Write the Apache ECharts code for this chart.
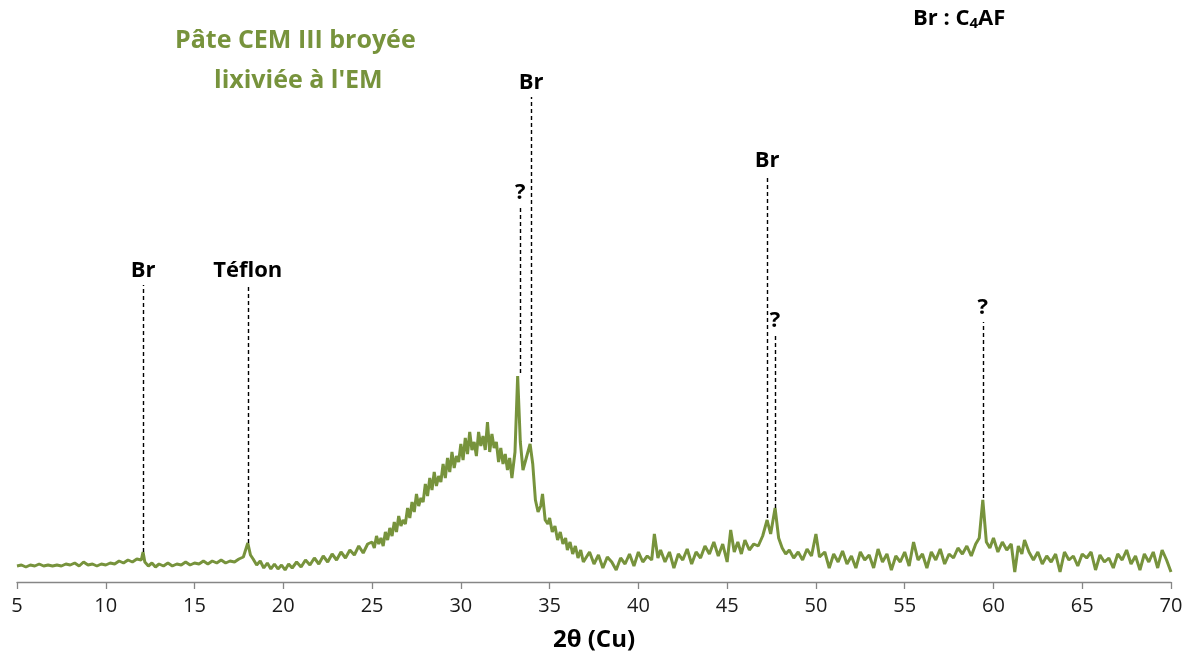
<!DOCTYPE html>
<html lang="fr" style="height: 100%">
<head>
    <meta charset="utf-8">
    <meta name="viewport" content="width=device-width, initial-scale=1.0">
</head>
<body style="height: 100%; margin: 0; overflow: hidden; background: #fff">
<div id="container" style="height: 659px; width: 1192px"></div>

<script type="text/javascript" src="https://cdn.jsdelivr.net/npm/echarts@6/dist/echarts.min.js"></script>

<script type="text/javascript">
    // diffractogramme : [2theta, intensité (unités arbitraires)]
    var pattern = [
      [5,16],[5.25,17],[5.5,15],[5.75,17],[6,16],[6.25,18],[6.5,16],[6.75,17],[7,16],[7.25,17],[7.5,16],[7.75,18],
      [8,17],[8.25,19],[8.5,16],[8.75,20],[9,17],[9.25,18],[9.5,16],[9.75,18],[10,17],[10.25,19],[10.5,18],[10.75,21],
      [11,19],[11.25,22],[11.5,20],[11.75,23],[12,22],[12.1,30],[12.2,20],[12.4,16],[12.6,19],[12.8,15],[13,18],[13.25,16],
      [13.5,19],[13.75,16],[14,18],[14.25,17],[14.5,20],[14.75,17],[15,19],[15.25,18],[15.5,21],[15.75,18],[16,21],[16.25,19],
      [16.5,22],[16.75,19],[17,21],[17.25,20],[17.5,23],[17.75,25],[18,39],[18.15,27],[18.3,23],[18.5,17],[18.7,21],[18.9,14],
      [19.1,19],[19.3,13],[19.5,18],[19.7,13],[19.9,17],[20.1,12],[20.3,18],[20.5,14],[20.75,20],[21,15],[21.25,22],[21.5,17],
      [21.75,24],[22,18],[22.25,26],[22.5,20],[22.75,28],[23,22],[23.25,30],[23.5,24],[23.75,32],[24,27],[24.25,36],[24.5,29],
      [24.75,38],[25,40],[25.125,34],[25.25,46],[25.375,38],[25.5,44],[25.625,36],[25.75,50],[25.875,42],
      [26,54],[26.125,46],[26.25,60],[26.375,50],[26.5,66],[26.625,56],[26.75,62],[26.875,58],
      [27,74],[27.125,64],[27.25,80],[27.375,70],[27.5,88],[27.625,76],[27.75,84],[27.875,80],
      [28,98],[28.125,86],[28.25,104],[28.375,92],[28.5,110],[28.625,96],[28.75,106],[28.875,100],
      [29,118],[29.125,104],[29.25,124],[29.375,110],[29.5,130],[29.625,114],[29.75,126],[29.875,120],
      [30,138],[30.125,122],[30.25,144],[30.375,128],[30.5,150],[30.625,132],[30.75,140],[30.875,126],
      [31,150],[31.125,136],[31.25,146],[31.375,132],[31.5,160],[31.625,130],[31.75,148],[31.875,134],
      [32,140],[32.125,120],[32.25,134],[32.375,118],[32.5,128],[32.625,112],[32.75,124],[32.875,104],
      [33.05,130],[33.2,206],[33.35,140],[33.5,112],[33.7,125],[33.9,138],[34.05,118],[34.2,82],[34.35,70],[34.5,76],
      [34.6,88],[34.75,62],[34.9,58],[35,64],[35.15,50],[35.3,56],[35.45,42],[35.6,50],[35.75,38],[35.9,44],[36,32],
      [36.15,40],[36.3,28],[36.45,36],[36.6,24],[36.75,32],[36.9,20],
      [37,22],[37.25,30],[37.5,18],[37.75,27],[38,14],[38.25,25],[38.5,20],[38.75,12],[39,24],[39.25,18],[39.5,28],[39.75,16],
      [40,30],[40.25,20],[40.5,26],[40.75,22],[40.9,48],[41.1,24],[41.25,32],[41.5,20],[41.75,30],[42,14],[42.25,28],[42.5,22],
      [42.75,33],[43,18],[43.25,30],[43.5,24],[43.75,36],[44,28],[44.25,40],[44.5,26],[44.75,38],[45,20],[45.2,52],[45.4,30],
      [45.6,40],[45.8,28],[46,42],[46.25,32],[46.5,38],[46.75,36],[47,46],[47.25,62],[47.45,48],[47.7,74],[47.9,44],[48.1,34],
      [48.3,28],[48.5,32],[48.75,24],[49,30],[49.25,22],[49.5,33],[49.75,26],[50,48],[50.2,25],[50.5,30],[50.75,14],[51,28],
      [51.25,20],[51.5,31],[51.75,18],[52,26],[52.25,14],[52.5,30],[52.75,22],[53,27],[53.25,14],[53.5,33],[53.75,20],[54,28],
      [54.25,12],[54.5,26],[54.75,20],[55,30],[55.25,16],[55.5,40],[55.75,22],[56,28],[56.25,14],[56.5,30],[56.75,22],[57,33],
      [57.25,18],[57.5,28],[57.75,24],[58,34],[58.25,28],[58.5,36],[58.75,26],[59,38],[59.2,44],[59.4,82],[59.6,40],[59.8,34],
      [60,44],[60.25,30],[60.5,40],[60.75,32],[61,38],[61.2,10],[61.4,36],[61.6,28],[61.75,42],[62,30],[62.25,22],[62.5,30],
      [62.75,18],[63,26],[63.25,20],[63.5,28],[63.75,10],[64,30],[64.25,22],[64.5,26],[64.75,16],[65,28],[65.25,24],[65.5,30],
      [65.75,12],[66,27],[66.25,20],[66.5,24],[66.75,14],[67,28],[67.25,22],[67.5,32],[67.75,18],[68,26],[68.25,12],[68.5,28],
      [68.75,20],[69,30],[69.25,14],[69.5,32],[69.75,22],[70,10]
    ];

    // pics repérés (lignes pointillées)
    var peakNames = ['Br', 'Téflon', '?', 'Br', 'Br', '?', '?'];
    var peakPos   = [12.1, 18.0, 33.35, 33.96, 47.25, 47.7, 59.4];
    var peakBase  = [30, 39, 209, 140, 64, 74, 84];
    var peakTop   = [297, 297, 375, 485, 407, 247, 260];

    var green = '#77933C';

    var dom = document.getElementById('container');
    var myChart = echarts.init(dom, null, { renderer: 'canvas' });

    var option = {
      animation: false,
      textStyle: { fontFamily: 'Open Sans' },
      grid: { left: 17, right: 21, top: 22, bottom: 77 },
      xAxis: {
        type: 'value',
        min: 5,
        max: 70,
        interval: 5,
        name: '2θ (Cu)',
        nameLocation: 'middle',
        nameGap: 46,
        nameTextStyle: { fontSize: 24, fontWeight: 'bold', color: '#000' },
        axisLine: { lineStyle: { color: '#868686', width: 1.3 } },
        axisTick: { length: 7, lineStyle: { color: '#868686', width: 1.3 } },
        axisLabel: { fontSize: 20, color: '#1a1a1a', margin: 14 },
        splitLine: { show: false }
      },
      yAxis: {
        type: 'value',
        min: 0,
        max: 560,
        show: false
      },
      graphic: [
        {
          type: 'text', left: 175, top: 28,
          style: { text: 'Pâte CEM III broyée', fill: green, font: 'bold 25px "Open Sans"' }
        },
        {
          type: 'text', left: 214, top: 68,
          style: { text: "lixiviée à l'EM", fill: green, font: 'bold 25px "Open Sans"' }
        },
        {
          type: 'text', left: 913, top: 8,
          style: {
            text: 'Br : C{s|4}AF',
            fill: '#000',
            font: 'bold 22px "Open Sans"',
            rich: {
              s: { fontSize: 15, fontWeight: 'bold', fontFamily: 'Open Sans', verticalAlign: 'bottom', padding: [10, 0, 0, 0] }
            }
          }
        }
      ],
      series: [
        {
          type: 'line',
          data: pattern,
          symbol: 'none',
          lineStyle: { color: green, width: 3 },
          markLine: {
            silent: true,
            symbol: ['none', 'none'],
            lineStyle: { color: '#000', type: [4, 3], width: 1.4 },
            label: {
              position: 'end',
              formatter: '{b}',
              color: '#000',
              fontSize: 22,
              fontWeight: 'bold',
              distance: 3
            },
            data: peakNames.map(function (n, i) {
              return [
                { name: n, coord: [peakPos[i], peakBase[i]] },
                { coord: [peakPos[i], peakTop[i]] }
              ];
            })
          }
        }
      ]
    };

    myChart.setOption(option);
    window.addEventListener('resize', myChart.resize);
</script>
</body>
</html>
